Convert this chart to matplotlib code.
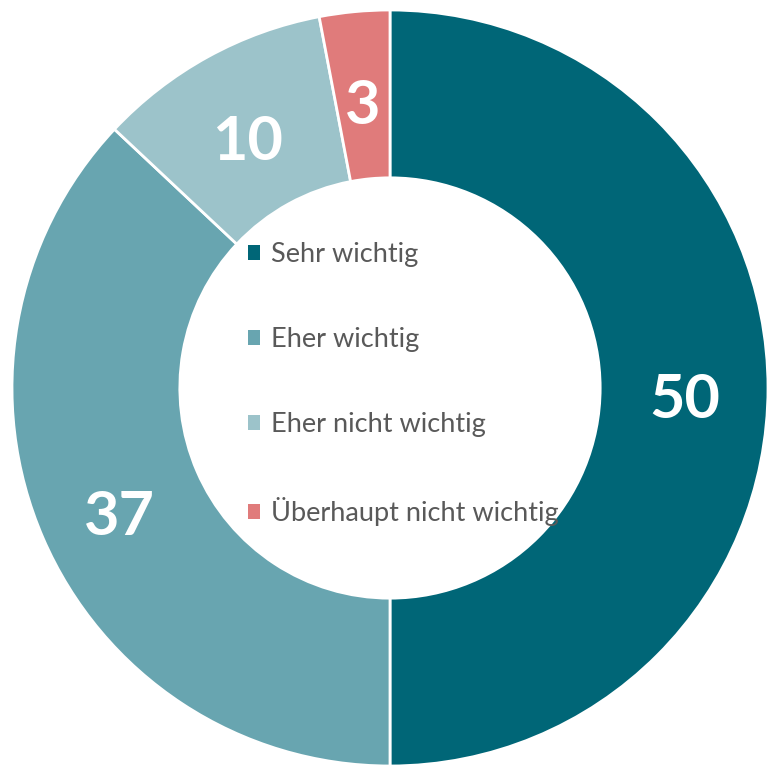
import matplotlib
matplotlib.use("Agg")
import matplotlib.pyplot as plt

categories = ["Sehr wichtig", "Eher wichtig", "Eher nicht wichtig", "Überhaupt nicht wichtig"]
values = [50, 37, 10, 3]
colors = ["#006677", "#68a5b0", "#9cc3ca", "#e07b7b"]

W, H = 767, 765
cx, cy, R = 390, 388, 378

fig = plt.figure(figsize=(W / 100, H / 100), dpi=100)
ax = fig.add_axes([0, 0, 1, 1])
wedges, texts, autotexts = ax.pie(
    values, colors=colors, startangle=90, counterclock=False, radius=1.0,
    wedgeprops=dict(width=0.444, edgecolor="white", linewidth=2),
    autopct=lambda p: f"{p:.0f}", pctdistance=0.78,
    textprops=dict(color="white", fontsize=44, fontweight="bold", family="Lato"),
)
for t in autotexts:
    x, y = t.get_position()
    t.set_position((x, y - 12 / R))
ax.set_xlim(-cx / R, (W - cx) / R)
ax.set_ylim(-(H - cy) / R, cy / R)
ax.set_aspect("auto")
ax.axis("off")

leg = ax.legend(
    wedges, categories, loc="upper left", bbox_to_anchor=(248 / W, 1 - 242 / H),
    bbox_transform=fig.transFigure, frameon=False, handlelength=0.45, handleheight=0.45,
    handletextpad=0.4, labelspacing=2.22, borderaxespad=0, borderpad=0,
    prop=dict(family="Lato", size=19.5),
)
for t in leg.get_texts():
    t.set_color("#595959")
for h in leg.legend_handles:
    h.set_edgecolor("none")

fig.savefig("out.png", dpi=100)
